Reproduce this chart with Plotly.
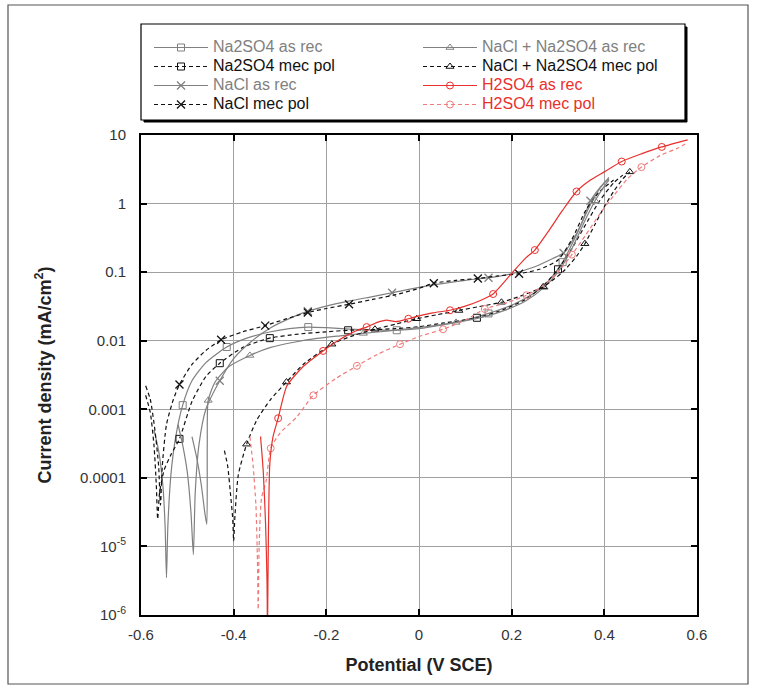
import plotly.graph_objects as go

# ---------------- data (potential V SCE, current density mA/cm2) ----------------
na2so4_rec_V = [-0.572, -0.562, -0.553, -0.548, -0.545, -0.542, -0.535, -0.525, -0.51, -0.49, -0.46,
                -0.415, -0.37, -0.32, -0.28, -0.239, -0.2, -0.15, -0.1, -0.048, 0.0, 0.05, 0.1, 0.15,
                0.2, 0.25, 0.28, 0.31, 0.34, 0.36, 0.38, 0.40, 0.41]
na2so4_rec_I = [5e-4, 2.5e-4, 8e-5, 2e-5, 3.5e-6, 2e-5, 1.2e-4, 4e-4, 1.15e-3, 2.6e-3, 4.8e-3,
                8.1e-3, 1.1e-2, 1.35e-2, 1.5e-2, 1.58e-2, 1.55e-2, 1.48e-2, 1.44e-2, 1.42e-2, 1.5e-2,
                1.7e-2, 2.0e-2, 2.5e-2, 3.3e-2, 5e-2, 7.5e-2, 0.14, 0.35, 0.7, 1.3, 2.0, 2.3]
na2so4_rec_mk = [-0.51, -0.415, -0.239, -0.048, 0.15, 0.31]

na2so4_pol_V = [-0.59, -0.58, -0.572, -0.567, -0.564, -0.56, -0.55, -0.535, -0.517, -0.49, -0.46,
                -0.43, -0.38, -0.322, -0.26, -0.2, -0.153, -0.1, -0.05, 0.0, 0.05, 0.125, 0.18,
                0.23, 0.27, 0.3, 0.33, 0.36, 0.39, 0.42, 0.44]
na2so4_pol_I = [1.6e-3, 9e-4, 3e-4, 8e-5, 2.5e-5, 6e-5, 1.3e-4, 2.2e-4, 3.7e-4, 1.3e-3, 3e-3,
                4.7e-3, 8e-3, 1.09e-2, 1.25e-2, 1.35e-2, 1.42e-2, 1.45e-2, 1.5e-2, 1.6e-2, 1.8e-2,
                2.16e-2, 2.8e-2, 4e-2, 6.5e-2, 0.11, 0.22, 0.5, 1.1, 2.0, 2.6]
na2so4_pol_mk = [-0.517, -0.43, -0.322, -0.153, 0.125, 0.3]

nacl_rec_V = [-0.52, -0.51, -0.5, -0.492, -0.487, -0.483, -0.475, -0.46, -0.43, -0.4, -0.36, -0.32,
              -0.28, -0.24, -0.2, -0.15, -0.1, -0.058, 0.0, 0.05, 0.1, 0.15, 0.2, 0.25, 0.29,
              0.312, 0.33, 0.35, 0.37, 0.39, 0.405, 0.41]
nacl_rec_I = [6e-4, 3e-4, 1.2e-4, 3e-5, 7.6e-6, 6e-5, 3e-4, 1.0e-3, 2.6e-3, 5.5e-3, 1.0e-2, 1.55e-2,
              2.1e-2, 2.7e-2, 3.2e-2, 3.8e-2, 4.4e-2, 5.0e-2, 6.0e-2, 6.8e-2, 7.6e-2, 8.3e-2,
              9.5e-2, 0.12, 0.16, 0.19, 0.28, 0.5, 1.1, 1.7, 2.2, 2.4]
nacl_rec_mk = [-0.43, -0.24, -0.058, 0.15, 0.312, 0.37]

nacl_pol_V = [-0.59, -0.58, -0.57, -0.562, -0.558, -0.554, -0.545, -0.53, -0.517, -0.49, -0.46,
              -0.427, -0.38, -0.332, -0.29, -0.24, -0.2, -0.151, -0.1, -0.05, 0.0, 0.032, 0.08,
              0.127, 0.17, 0.216, 0.26, 0.3, 0.33, 0.36, 0.39, 0.42]
nacl_pol_I = [2.2e-3, 1.4e-3, 5e-4, 1.5e-4, 4e-5, 1.5e-4, 6e-4, 1.4e-3, 2.3e-3, 4.5e-3, 7.2e-3,
              1.03e-2, 1.35e-2, 1.66e-2, 2.05e-2, 2.58e-2, 2.95e-2, 3.4e-2, 4.0e-2, 4.7e-2, 5.8e-2,
              6.9e-2, 7.6e-2, 8.1e-2, 8.8e-2, 9.5e-2, 0.11, 0.15, 0.3, 0.8, 1.5, 2.2]
nacl_pol_mk = [-0.517, -0.427, -0.332, -0.24, -0.151, 0.032, 0.127, 0.216]

mix_rec_V = [-0.49, -0.48, -0.47, -0.462, -0.458, -0.457, -0.455, -0.44, -0.41, -0.365, -0.32, -0.27,
             -0.22, -0.17, -0.12, -0.07, -0.02, 0.03, 0.08, 0.13, 0.18, 0.23, 0.27, 0.3, 0.33,
             0.36, 0.38, 0.40, 0.41]
mix_rec_I = [4e-4, 2e-4, 8e-5, 3e-5, 2.1e-5, 3e-4, 1.35e-3, 2.5e-3, 4.2e-3, 6.1e-3, 8e-3, 9.5e-3,
             1.08e-2, 1.18e-2, 1.28e-2, 1.38e-2, 1.5e-2, 1.65e-2, 1.85e-2, 2.15e-2, 2.7e-2, 3.8e-2,
             6e-2, 0.1, 0.22, 0.6, 1.1, 1.8, 2.2]
mix_rec_mk = [-0.455, -0.365, -0.12, 0.08, 0.27, 0.38]

mix_pol_V = [-0.42, -0.413, -0.407, -0.402, -0.40, -0.397, -0.39, -0.372, -0.35, -0.32, -0.286,
             -0.25, -0.188, -0.14, -0.095, -0.05, -0.005, 0.04, 0.086, 0.13, 0.178, 0.22, 0.268,
             0.31, 0.34, 0.358, 0.38, 0.40, 0.42, 0.44, 0.455]
mix_pol_I = [2.5e-4, 1.5e-4, 6e-5, 2.5e-5, 1.2e-5, 3e-5, 1.1e-4, 3.1e-4, 7e-4, 1.4e-3, 2.5e-3,
             4.5e-3, 8.9e-3, 1.2e-2, 1.47e-2, 1.75e-2, 2.09e-2, 2.4e-2, 2.76e-2, 3.15e-2, 3.64e-2,
             4.5e-2, 6.1e-2, 0.1, 0.17, 0.26, 0.5, 0.9, 1.5, 2.3, 2.9]
mix_pol_mk = [-0.372, -0.286, -0.188, -0.095, -0.005, 0.086, 0.178, 0.268, 0.358, 0.455]

h2so4_rec_V = [-0.342, -0.336, -0.331, -0.328, -0.327, -0.326, -0.322, -0.315, -0.304, -0.285,
               -0.25, -0.207, -0.17, -0.13, -0.113, -0.09, -0.07, -0.05, -0.023, 0.0, 0.03, 0.067,
               0.1, 0.13, 0.16, 0.2, 0.23, 0.25, 0.28, 0.31, 0.34, 0.37, 0.4, 0.4375, 0.48, 0.524,
               0.58]
h2so4_rec_I = [4e-4, 1.2e-4, 2e-5, 3e-6, 5e-7, 3e-6, 1.6e-4, 4e-4, 7.4e-4, 2.2e-3,
               4.2e-3, 7.1e-3, 1.05e-2, 1.45e-2, 1.58e-2, 1.85e-2, 2.0e-2, 1.9e-2, 2.09e-2, 2.3e-2,
               2.55e-2, 2.78e-2, 3.2e-2, 3.8e-2, 4.8e-2, 9.6e-2, 0.16, 0.21, 0.4, 0.8, 1.5, 2.2,
               2.9, 4.1, 5.3, 6.7, 8.5]
h2so4_rec_mk = [-0.304, -0.207, -0.113, -0.023, 0.067, 0.16, 0.25, 0.34, 0.4375, 0.524]

h2so4_pol_V = [-0.365, -0.358, -0.352, -0.349, -0.347, -0.345, -0.34, -0.33, -0.32, -0.30, -0.264,
               -0.228, -0.18, -0.134, -0.09, -0.041, 0.0, 0.052, 0.1, 0.142, 0.19, 0.232, 0.27,
               0.3, 0.33, 0.36, 0.39, 0.42, 0.45, 0.48, 0.52, 0.56, 0.58]
h2so4_pol_I = [4e-4, 1.5e-4, 4e-5, 8e-6, 1.2e-6, 1e-5, 5e-5, 9e-5, 2.7e-4, 4.5e-4, 7.7e-4,
               1.6e-3, 2.8e-3, 4.3e-3, 6.3e-3, 8.9e-3, 1.15e-2, 1.47e-2, 2.0e-2, 2.9e-2, 3.6e-2,
               4.6e-2, 6.5e-2, 0.1, 0.18, 0.35, 0.7, 1.3, 2.3, 3.4, 5.0, 6.5, 7.8]
h2so4_pol_mk = [-0.32, -0.228, -0.134, -0.041, 0.052, 0.142, 0.232, 0.33, 0.48]

x_ticks = [-0.6, -0.4, -0.2, 0.0, 0.2, 0.4, 0.6]
x_ticklabels = ["-0.6", "-0.4", "-0.2", "0", "0.2", "0.4", "0.6"]
y_ticks = [10, 1, 0.1, 0.01, 0.001, 0.0001, 1e-5, 1e-6]
y_ticklabels = ["10", "1", "0.1", "0.01", "0.001", "0.0001", "10<sup>-5</sup>", "10<sup>-6</sup>"]

# ---------------- styles ----------------
GRAY = "#808080"
BLACK = "#111111"
RED = "#e8302c"
LRED = "#f07a7a"
DASH = "4px,3px"
FONT = "Arial, Liberation Sans, sans-serif"
LEG_TEXT_PX = 16

series = {
    "na2so4_rec": dict(V=na2so4_rec_V, I=na2so4_rec_I, mk=na2so4_rec_mk, name="Na2SO4 as rec",
                       color=GRAY, dash="solid", symbol="square-open", tcolor=GRAY),
    "na2so4_pol": dict(V=na2so4_pol_V, I=na2so4_pol_I, mk=na2so4_pol_mk, name="Na2SO4 mec pol",
                       color=BLACK, dash=DASH, symbol="square-open", tcolor=BLACK),
    "nacl_rec": dict(V=nacl_rec_V, I=nacl_rec_I, mk=nacl_rec_mk, name="NaCl as rec",
                     color=GRAY, dash="solid", symbol="x-thin", tcolor=GRAY),
    "nacl_pol": dict(V=nacl_pol_V, I=nacl_pol_I, mk=nacl_pol_mk, name="NaCl mec pol",
                     color=BLACK, dash=DASH, symbol="x-thin", tcolor=BLACK),
    "mix_rec": dict(V=mix_rec_V, I=mix_rec_I, mk=mix_rec_mk, name="NaCl + Na2SO4 as rec",
                    color=GRAY, dash="solid", symbol="triangle-up-open", tcolor=GRAY),
    "mix_pol": dict(V=mix_pol_V, I=mix_pol_I, mk=mix_pol_mk, name="NaCl + Na2SO4 mec pol",
                    color=BLACK, dash=DASH, symbol="triangle-up-open", tcolor=BLACK),
    "h2so4_rec": dict(V=h2so4_rec_V, I=h2so4_rec_I, mk=h2so4_rec_mk, name="H2SO4 as rec",
                      color=RED, dash="solid", symbol="circle-open", tcolor=RED),
    "h2so4_pol": dict(V=h2so4_pol_V, I=h2so4_pol_I, mk=h2so4_pol_mk, name="H2SO4 mec pol",
                      color=LRED, dash=DASH, symbol="circle-open", tcolor=RED),
}

def marker_style(s):
    m = dict(symbol=s["symbol"], size=7, color=s["color"], line=dict(color=s["color"], width=1))
    if s["symbol"] == "x-thin":
        m["size"] = 8
        m["line"]["width"] = 1.3
    return m

fig = go.Figure()
draw_order = ["na2so4_rec", "na2so4_pol", "nacl_rec", "nacl_pol",
              "mix_rec", "mix_pol", "h2so4_pol", "h2so4_rec"]
for key in draw_order:
    s = series[key]
    fig.add_trace(go.Scatter(x=s["V"], y=s["I"], mode="lines", showlegend=False, hoverinfo="skip",
                             line=dict(color=s["color"], width=1.2, dash=s["dash"], shape="spline",
                                       smoothing=0.6)))
    mx = [v for v in s["V"] if v in s["mk"]]
    my = [i for v, i in zip(s["V"], s["I"]) if v in s["mk"]]
    fig.add_trace(go.Scatter(x=mx, y=my, mode="markers", showlegend=False, hoverinfo="skip",
                             marker=marker_style(s)))

# legend entries: two columns, each its own legend
legend_cols = {
    "legend": ["na2so4_rec", "na2so4_pol", "nacl_rec", "nacl_pol"],
    "legend2": ["mix_rec", "mix_pol", "h2so4_rec", "h2so4_pol"],
}
for leg, keys in legend_cols.items():
    for key in keys:
        s = series[key]
        fig.add_trace(go.Scatter(
            x=[None], y=[None], mode="lines+markers", legend=leg,
            name="<span style='color:%s;font-size:%dpx'>%s</span>" % (s["tcolor"], LEG_TEXT_PX, s["name"]),
            line=dict(color=s["color"], width=1.2, dash=s["dash"]),
            marker=marker_style(s)))

L, R, T, B = 141, 697, 135, 615
W, H = 757, 688
def px(x):
    return (x - L) / (R - L)
def py(y):
    return (B - y) / (B - T)

leg_common = dict(orientation="v", yanchor="top", xanchor="left", bgcolor="rgba(0,0,0,0)",
                  borderwidth=0, itemwidth=54, font=dict(family=FONT, size=12),
                  traceorder="normal", itemclick=False, tracegroupgap=0)

fig.update_layout(
    width=W, height=H,
    margin=dict(l=L, r=W - R, t=T, b=H - B),
    paper_bgcolor="white", plot_bgcolor="white",
    font=dict(family=FONT, size=15, color="#333333"),
    showlegend=True,
    legend=dict(x=px(149), y=py(33), **leg_common),
    legend2=dict(x=px(418), y=py(33), **leg_common),
    xaxis=dict(range=[-0.6, 0.6], tickvals=x_ticks, ticktext=x_ticklabels,
               showgrid=True, gridcolor="#a0a0a0", gridwidth=1.4, zeroline=False,
               showline=True, linecolor="black", linewidth=2, mirror="ticks",
               ticks="inside", ticklen=6, tickwidth=1.5, tickcolor="black",
               tickfont=dict(family=FONT, size=15, color="#333333"), ticklabelstandoff=5,
               title=dict(text="<b>Potential (V SCE)</b>", standoff=16,
                          font=dict(family=FONT, size=18, color="#222222"))),
    yaxis=dict(type="log", range=[-6, 1], tickvals=y_ticks, ticktext=y_ticklabels,
               showgrid=True, gridcolor="#a0a0a0", gridwidth=1.4, zeroline=False,
               showline=True, linecolor="black", linewidth=2, mirror="ticks",
               ticks="inside", ticklen=6, tickwidth=1.5, tickcolor="black",
               tickfont=dict(family=FONT, size=15, color="#333333"), ticklabelstandoff=10,
               title=dict(text="<b>Current density (mA/cm<sup>2</sup>)</b>", standoff=24,
                          font=dict(family=FONT, size=18, color="#222222"))),
    shapes=[
        # outer frame of the picture
        dict(type="rect", xref="paper", yref="paper", x0=px(8), x1=px(748), y0=py(684), y1=py(5),
             line=dict(color="#555555", width=1.2), layer="below"),
        # legend box shadow and box
        dict(type="rect", xref="paper", yref="paper", x0=px(144), x1=px(687), y0=py(122), y1=py(27),
             line=dict(color="black", width=1), fillcolor="black", layer="below"),
        dict(type="rect", xref="paper", yref="paper", x0=px(141), x1=px(685), y0=py(120), y1=py(24),
             line=dict(color="black", width=1.2), fillcolor="white", layer="below"),
    ],
)

fig.write_html("out.html")
